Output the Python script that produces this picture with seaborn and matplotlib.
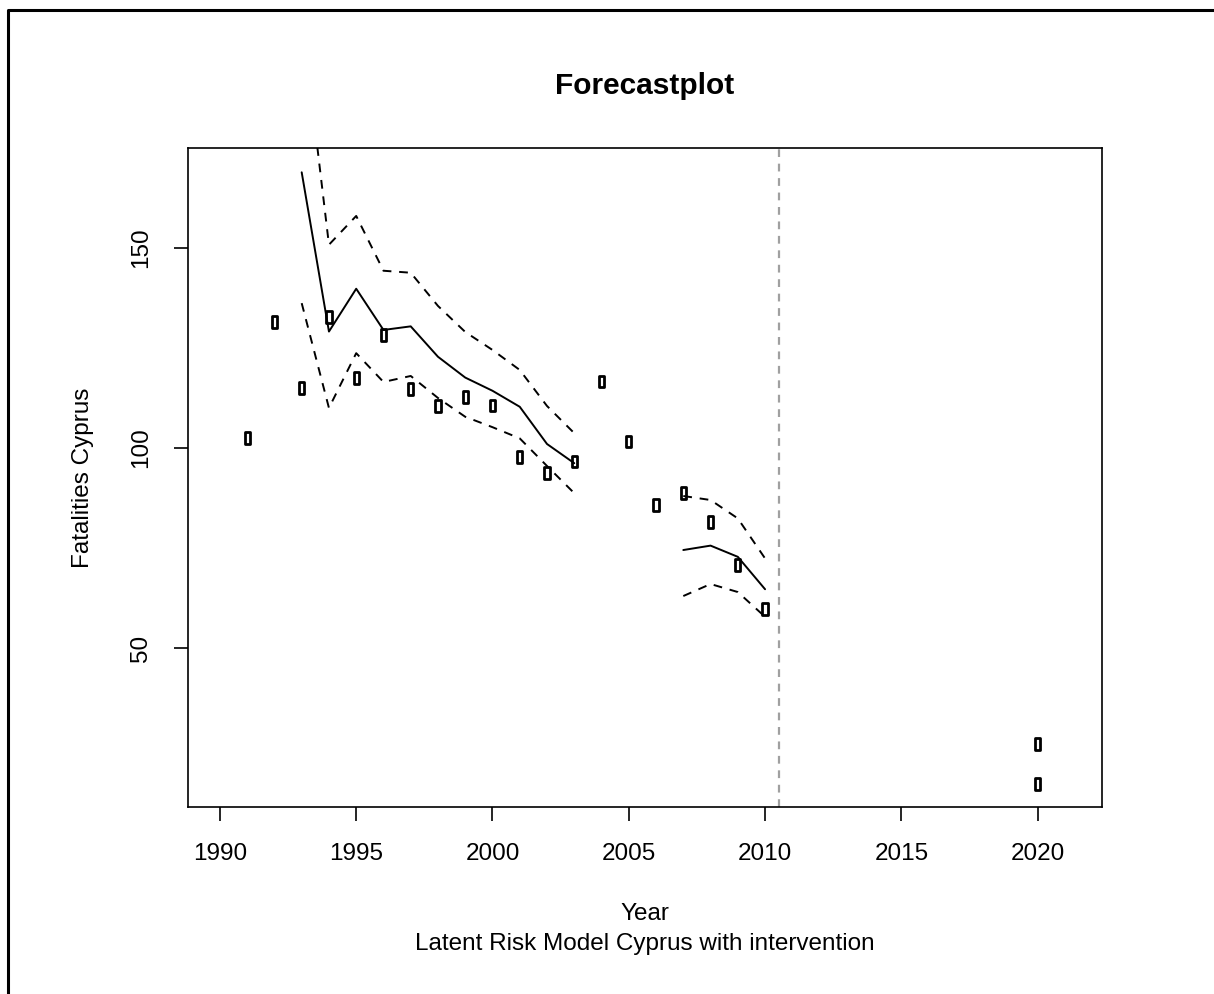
import matplotlib
matplotlib.use("Agg")
import matplotlib.pyplot as plt
import seaborn as sns
import numpy as np
from matplotlib.path import Path
from matplotlib.lines import Line2D

# observed fatalities (points)
obs_years = [1991, 1992, 1993, 1994, 1995, 1996, 1997, 1998, 1999, 2000,
             2001, 2002, 2003, 2004, 2005, 2006, 2007, 2008, 2009, 2010,
             2020, 2020]
obs_values = [102.5, 131.5, 115, 132.7, 117.5, 128.2, 114.7, 110.5, 112.7, 110.6,
              97.7, 93.7, 96.6, 116.6, 101.6, 85.7, 88.7, 81.6, 70.7, 59.7,
              26, 16]

# fitted model with bounds, first segment
fit1_years = [1993, 1994, 1995, 1996, 1997, 1998, 1999, 2000, 2001, 2002, 2003]
fit1_mid = [168.9, 129.1, 139.8, 129.5, 130.4, 122.8, 117.6, 114.3, 110.3, 101.0, 96.2]
fit1_upper = [208, 150.8, 158, 144.3, 143.8, 135.5, 129.0, 124.5, 119.5, 110.5, 103.7]
fit1_lower = [136.2, 110, 123.7, 116.5, 118, 112.5, 107.8, 105.2, 102.4, 95.5, 88.7]

# fitted model with bounds, second segment
fit2_years = [2007, 2008, 2009, 2010]
fit2_mid = [74.5, 75.6, 72.8, 64.7]
fit2_upper = [88, 87, 82.4, 72.4]
fit2_lower = [63, 66, 64, 57.8]

forecast_start = 2010.5

sns.set_style("ticks")
plt.rcParams["font.family"] = ["Liberation Sans", "DejaVu Sans"]
plt.rcParams["text.color"] = "black"
plt.rcParams["axes.labelcolor"] = "black"

fig = plt.figure(figsize=(12.14, 9.94), dpi=100)
ax = fig.add_axes([188.3 / 1214, 1 - 807.3 / 994, (1101.7 - 188.3) / 1214, (807.3 - 148.3) / 994])

dash = (0, (4.5, 4))
for yrs, mid, up, lo in [(fit1_years, fit1_mid, fit1_upper, fit1_lower),
                         (fit2_years, fit2_mid, fit2_upper, fit2_lower)]:
    sns.lineplot(x=yrs, y=mid, ax=ax, color="black", linewidth=1.4, estimator=None)
    sns.lineplot(x=yrs, y=up, ax=ax, color="black", linewidth=1.4, estimator=None, linestyle=dash)
    sns.lineplot(x=yrs, y=lo, ax=ax, color="black", linewidth=1.4, estimator=None, linestyle=dash)

# R draws the missing glyph as a small hollow box
rect = Path([(-0.22, -0.5), (0.22, -0.5), (0.22, 0.5), (-0.22, 0.5), (-0.22, -0.5)],
            [Path.MOVETO, Path.LINETO, Path.LINETO, Path.LINETO, Path.CLOSEPOLY])
sns.scatterplot(x=obs_years, y=obs_values, ax=ax, marker=rect, s=72,
                facecolor="none", edgecolor="black", linewidth=2.0, zorder=5)

ax.axvline(forecast_start, color="#a0a0a0", linewidth=1.6, linestyle=(0, (3.5, 3)))

ax.set_xlim(1988.84, 2022.35)
ax.set_ylim(10.2, 174.9)
ax.set_xticks(np.arange(1990, 2021, 5))
ax.set_yticks([50, 100, 150])
for sp in ax.spines.values():
    sp.set_visible(True)
    sp.set_linewidth(1.2)
    sp.set_color("black")
ax.tick_params(direction="out", length=10, width=1.2, labelsize=17.5, pad=16,
               colors="black", labelcolor="black")
for lab in ax.get_yticklabels():
    lab.set_rotation(90)
    lab.set_va("center")
ax.set_xlabel("")
ax.set_ylabel("Fatalities Cyprus", fontsize=17.5, labelpad=26)

fig.text(645 / 1214, 1 - 86 / 994, "Forecastplot", ha="center", va="center",
         fontsize=21.5, fontweight="bold")
fig.text(645 / 1214, 1 - 914 / 994, "Year", ha="center", va="center", fontsize=17.5)
fig.text(645 / 1214, 1 - 944 / 994, "Latent Risk Model Cyprus with intervention",
         ha="center", va="center", fontsize=17.5)

# outer frame
fig.add_artist(Line2D([8 / 1214, 8 / 1214, 1.0], [0.0, 1 - 10 / 994, 1 - 10 / 994],
                      transform=fig.transFigure, color="black", linewidth=2.2))

fig.savefig("out.png", dpi=100)
